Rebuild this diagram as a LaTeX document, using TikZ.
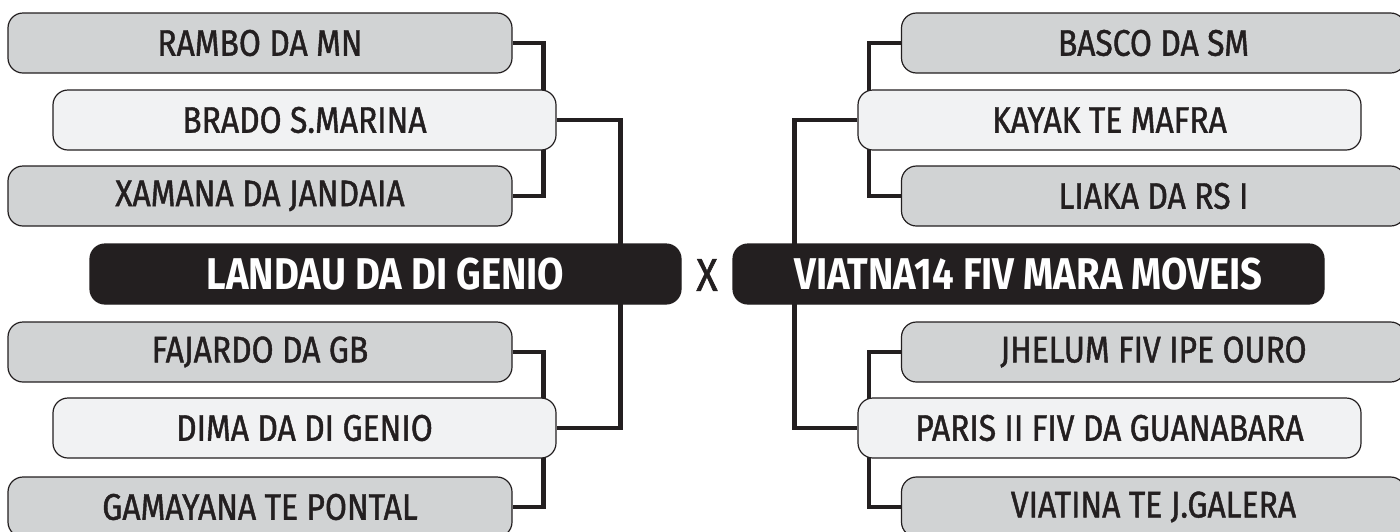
\documentclass[tikz,border=0pt]{standalone}
\usepackage{fontspec}
\setmainfont{Fira Sans}[FakeStretch=0.86,UprightFeatures={FakeBold=1.2}]
\usetikzlibrary{backgrounds}
\definecolor{ink}{HTML}{231F20}
\definecolor{outerfill}{HTML}{D1D3D4}
\definecolor{innerfill}{HTML}{F1F2F3}
\begin{document}
\begin{tikzpicture}[x=1pt,y=-1pt,line cap=butt,line join=miter,
  box/.style={draw=ink,line width=1.2pt,rounded corners=15pt,minimum height=60pt,
    inner sep=0pt,font=\fontsize{37}{37}\selectfont,text=ink},
  outerbox/.style={box,fill=outerfill,minimum width=504pt},
  innerbox/.style={box,fill=innerfill,minimum width=503pt},
  mainbox/.style={box,fill=ink,text=white,minimum width=591pt,
    font=\fontsize{44.5}{44.5}\selectfont\bfseries},
  link/.style={draw=ink,line width=4.6pt}]
 		\useasboundingbox (0,0) rectangle (1400,531);
 		\clip (0,0) rectangle (1400,531);
 		\node[outerbox] (rambo) at (260,43) {RAMBO DA MN};
 		\node[innerbox] (brado) at (304.5,120) {BRADO S.MARINA};
 		\node[outerbox] (xamana) at (260,196) {XAMANA DA JANDAIA};
 		\node[mainbox] (landau) at (385.5,274) {LANDAU DA DI GENIO};
 		\node[outerbox] (fajardo) at (260,352) {FAJARDO DA GB};
 		\node[innerbox] (dima) at (304.5,428) {DIMA DA DI GENIO};
 		\node[outerbox] (gamayana) at (260,507) {GAMAYANA TE PONTAL};
 		\node[font=\fontsize{46}{46}\selectfont,text=ink] (versus) at (707,275) {X};
 		\node[outerbox] (basco) at (1153.5,43) {BASCO DA SM};
 		\node[innerbox] (kayak) at (1109.5,120) {KAYAK TE MAFRA};
 		\node[outerbox] (liaka) at (1153.5,196) {LIAKA DA RS I};
 		\node[mainbox] (viatna) at (1028.5,274) {VIATNA14 FIV MARA MOVEIS};
 		\node[outerbox] (jhelum) at (1153.5,352) {JHELUM FIV IPE OURO};
 		\node[innerbox] (paris) at (1109.5,428) {PARIS II FIV DA GUANABARA};
 		\node[outerbox] (viatina) at (1153.5,507) {VIATINA TE J.GALERA};
 		\begin{pgfonlayer}{background}
 		\draw[link] (rambo.east) -- ++(31,0) |- (xamana.east);
 		\draw[link] (brado.east) -- ++(64,0) |- (dima.east);
 		\draw[link] (fajardo.east) -- ++(31,0) |- (gamayana.east);
 		\draw[link] (basco.west) -- ++(-32,0) |- (liaka.west);
 		\draw[link] (kayak.west) -- ++(-63,0) |- (paris.west);
 		\draw[link] (jhelum.west) -- ++(-32,0) |- (viatina.west);
 		\end{pgfonlayer}
 	\end{tikzpicture}
\end{document}
